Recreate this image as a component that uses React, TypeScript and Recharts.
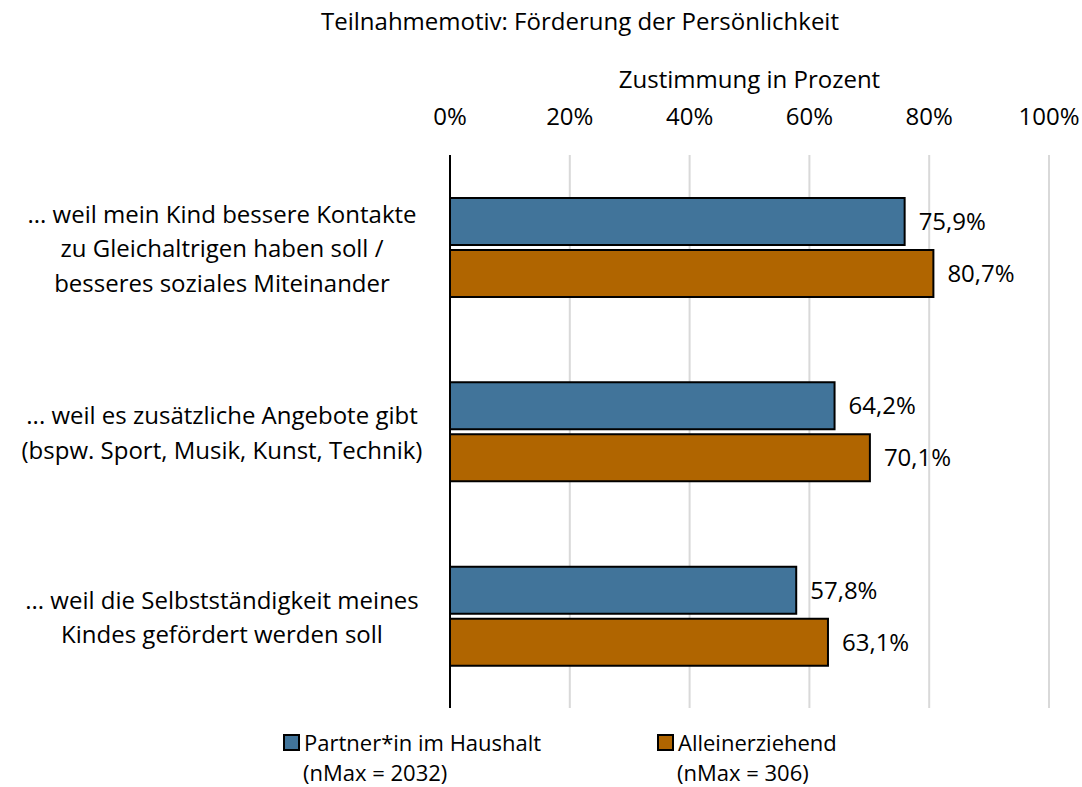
import { BarChart, Bar, XAxis, YAxis, CartesianGrid, LabelList } from 'recharts'

const categories = [
    ['... weil mein Kind bessere Kontakte', 'zu Gleichaltrigen haben soll /', 'besseres soziales Miteinander'],
    ['... weil es zusätzliche Angebote gibt', '(bspw. Sport, Musik, Kunst, Technik)'],
    ['... weil die Selbstständigkeit meines', 'Kindes gefördert werden soll'],
]
const partnerValues = [75.9, 64.2, 57.8]
const alleinValues = [80.7, 70.1, 63.1]
const xTicks = [0, 20, 40, 60, 80, 100]

const BLUE = '#41749a'
const ORANGE = '#b06500'
const FONT = '"Open Sans", sans-serif'
const FS = 24

const data = categories.map((lines, i) => ({
    name: lines.join(' '),
    partner: partnerValues[i],
    allein: alleinValues[i],
}))

const fmt = (v: number) => `${v.toFixed(1).replace('.', ',')}%`

const CategoryTick = (props: any) => {
    const { y, index } = props
    const lines = categories[index] || []
    const lh = 34.5
    const start = y - ((lines.length - 1) * lh) / 2
    return (
        <text x={222} y={start} textAnchor="middle" dominantBaseline="central" fontSize={FS} fill="#000" fontFamily={FONT}>
            {lines.map((l, i) => (
                <tspan key={i} x={222} y={start + i * lh}>{l}</tspan>
            ))}
        </text>
    )
}

const legendItems = [
    { color: BLUE, lines: ['Partner*in im Haushalt', '(nMax = 2032)'], left: 283 },
    { color: ORANGE, lines: ['Alleinerziehend', '(nMax = 306)'], left: 657 },
]

export default function App() {
    return (
        <div style={{ position: 'absolute', left: 0, top: 0, width: 1082, height: 787, overflow: 'hidden', background: '#fff', fontFamily: FONT, fontSize: FS, color: '#000' }}>
            <div style={{ position: 'absolute', left: 0, width: 1160, top: 4, textAlign: 'center' }}>
                Teilnahmemotiv: Förderung der Persönlichkeit
            </div>
            <div style={{ position: 'absolute', left: 450, width: 599, top: 62, textAlign: 'center' }}>
                Zustimmung in Prozent
            </div>
            <BarChart
                width={1082}
                height={787}
                data={data}
                layout="vertical"
                margin={{ top: 125, right: 33, bottom: 79, left: 10 }}
                barSize={47}
                barGap={5}
            >
                <CartesianGrid horizontal={false} stroke="#d9d9d9" strokeWidth={2} />
                <XAxis
                    type="number"
                    orientation="top"
                    domain={[0, 100]}
                    ticks={xTicks}
                    tickFormatter={(v) => `${v}%`}
                    axisLine={false}
                    tickLine={false}
                    tick={{ fontSize: FS, fill: '#000', fontFamily: FONT }}
                    tickMargin={24}
                    height={30}
                    interval={0}
                />
                <YAxis
                    type="category"
                    dataKey="name"
                    width={440}
                    axisLine={{ stroke: '#000', strokeWidth: 2 }}
                    tickLine={false}
                    tick={<CategoryTick />}
                    interval={0}
                />
                <Bar dataKey="partner" fill={BLUE} stroke="#000" strokeWidth={2} isAnimationActive={false}>
                    <LabelList dataKey="partner" position="right" offset={14} formatter={fmt} fill="#000" fontSize={FS} fontFamily={FONT} />
                </Bar>
                <Bar dataKey="allein" fill={ORANGE} stroke="#000" strokeWidth={2} isAnimationActive={false}>
                    <LabelList dataKey="allein" position="right" offset={14} formatter={fmt} fill="#000" fontSize={FS} fontFamily={FONT} />
                </Bar>
            </BarChart>
            {legendItems.map((it) => (
                <div key={it.left} style={{ position: 'absolute', left: it.left, top: 727, fontSize: 22 }}>
                    <div style={{ display: 'flex', alignItems: 'center', height: 30 }}>
                        <span style={{ width: 13, height: 13, background: it.color, border: '2px solid #000', display: 'inline-block', marginRight: 4 }} />
                        <span style={{ lineHeight: '30px' }}>{it.lines[0]}</span>
                    </div>
                    <div style={{ paddingLeft: 20, lineHeight: '30px' }}>{it.lines[1]}</div>
                </div>
            ))}
        </div>
    )
}
